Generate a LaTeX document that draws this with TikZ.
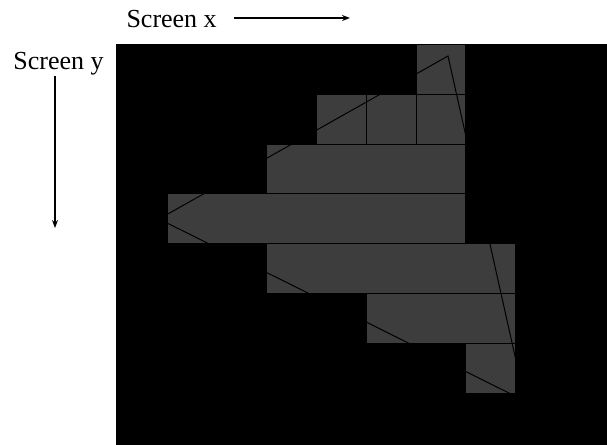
\documentclass[tikz,border=0pt]{standalone}
\usepackage{fontspec}
\setmainfont{Liberation Serif}
\usetikzlibrary{arrows.meta}
\definecolor{cellgray}{RGB}{61,61,61}

\begin{document}
\begin{tikzpicture}[x=0.75pt,y=-0.75pt,line width=0.75pt,>={Stealth[length=6pt,width=4.5pt]},
  font=\fontsize{19.5}{23}\selectfont]
\def\c{49.8}  % pixel size
\def\ox{117.2} % grid origin x
\def\oy{44.5}  % grid origin y
\useasboundingbox (0,0) rectangle (607,445);
% ---- screen ----
\fill[black] (115.5,44) rectangle (607,445);
% ---- covered pixels, one span per row ----
\foreach \r/\a/\b in {0/6/6,2/3/6,3/1/6,4/3/7,5/5/7,6/7/7}{
  \draw[fill=cellgray] ({\ox+\a*\c},{\oy+\r*\c}) rectangle ({\ox+(\b+1)*\c},{\oy+(\r+1)*\c});}
% row 1 drawn pixel by pixel
\foreach \i in {4,5,6}{
  \draw[fill=cellgray] ({\ox+\i*\c},{\oy+\c}) rectangle ({\ox+(\i+1)*\c},{\oy+2*\c});}
% ---- triangle ----
\coordinate (va) at (448,56);
\coordinate (vb) at (159,219);
\coordinate (vc) at (525,401);
\draw (va) -- (vb) -- (vc) -- cycle;
% ---- axes ----
\node[anchor=base west,inner sep=0] (xlab) at (126,28) {Screen x};
\node[anchor=base west,inner sep=0] (ylab) at (13,70) {Screen y};
\coordinate (xs) at (234,18);
\coordinate (xe) at (350,18);
\coordinate (ys) at (55,76);
\coordinate (ye) at (55,228);
\draw[->,line width=1.2pt] (xs) -- (xe);
\draw[->,line width=1.2pt] (ys) -- (ye);
\end{tikzpicture}
\end{document}
